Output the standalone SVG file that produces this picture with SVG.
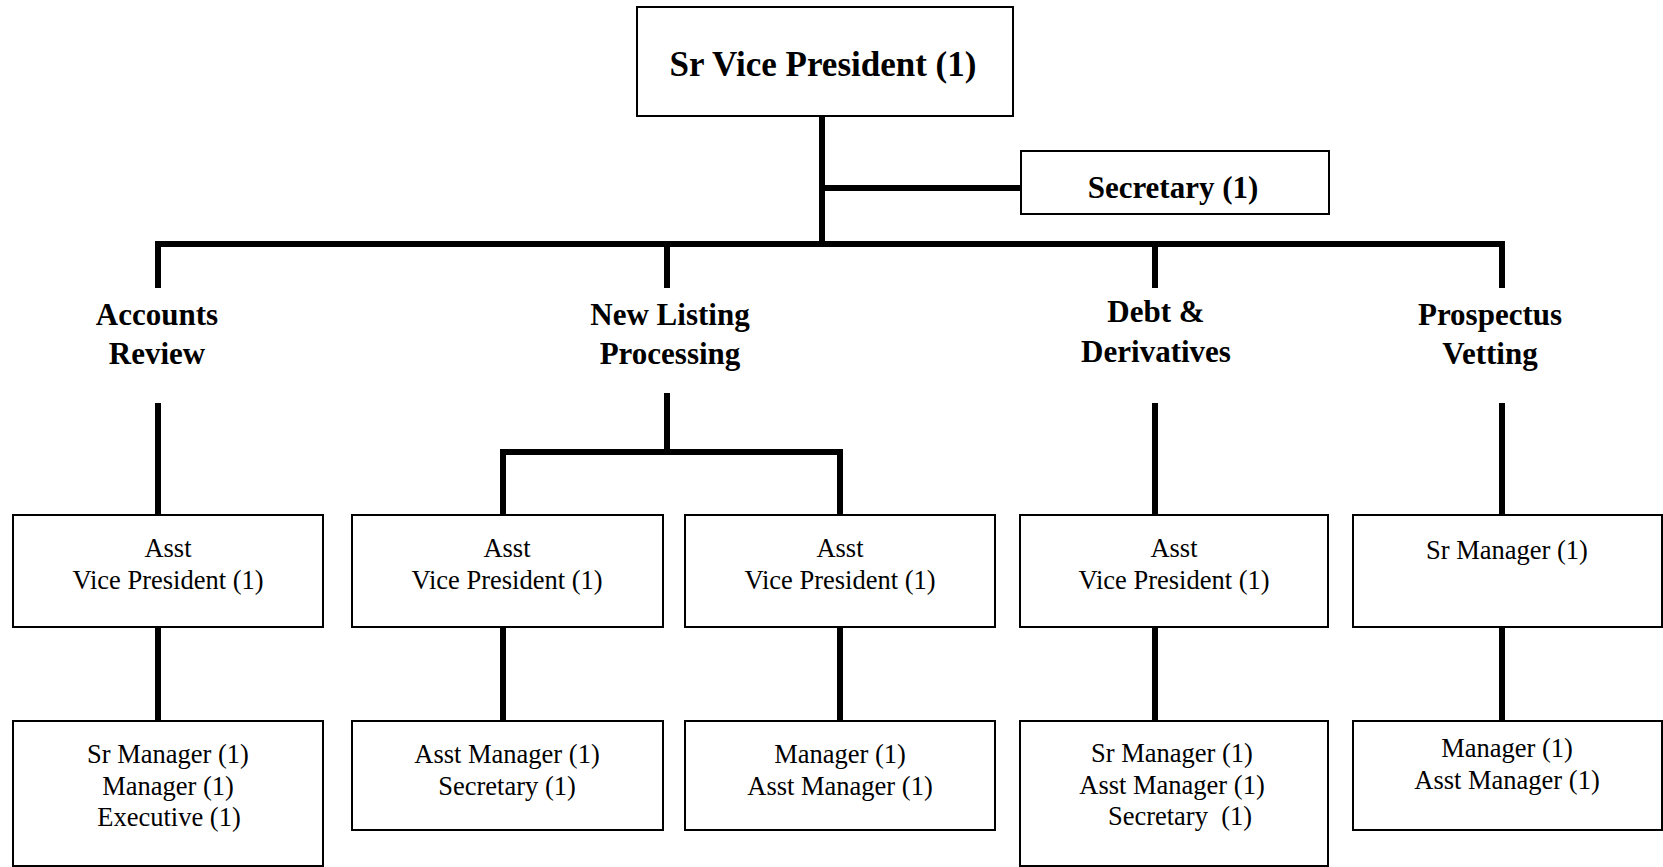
<svg xmlns="http://www.w3.org/2000/svg" width="1663" height="867" viewBox="0 0 1663 867">
<style>
.bg{fill:#fff}
.box{fill:#fff;stroke:#000;stroke-width:2}
.con{fill:none;stroke:#000;stroke-width:6;stroke-linejoin:miter}
text{font-family:"Liberation Serif","Times New Roman",serif;fill:#000;text-anchor:middle}
.b35{font-size:35px;font-weight:bold}
.b31{font-size:31px;font-weight:bold}
.r26{font-size:26.5px}
</style>
<rect class="bg" x="0" y="0" width="1663" height="867"/>
<g id="connectors">
<path class="con" d="M822 116 V244"/>
<path class="con" d="M822 188 H1021"/>
<path class="con" d="M155 244 H1505"/>
<path class="con" d="M158 244 V288"/>
<path class="con" d="M667 244 V288"/>
<path class="con" d="M1155 244 V288"/>
<path class="con" d="M1502 244 V288"/>
<path class="con" d="M158 403 V515"/>
<path class="con" d="M667 393 V452"/>
<path class="con" d="M503 515 V452 H840 V515"/>
<path class="con" d="M1155 403 V515"/>
<path class="con" d="M1502 403 V515"/>
<path class="con" d="M158 627 V721"/>
<path class="con" d="M503 627 V721"/>
<path class="con" d="M840 627 V721"/>
<path class="con" d="M1155 627 V721"/>
<path class="con" d="M1502 627 V721"/>
</g>
<g id="svp">
<rect class="box" x="637" y="7" width="376" height="109"/>
<text class="b35" x="823" y="76">Sr Vice President (1)</text>
</g>
<g id="secretary">
<rect class="box" x="1021" y="151" width="308" height="63"/>
<text class="b31" x="1173" y="198">Secretary (1)</text>
</g>
<g id="dept-accounts">
<text class="b31" x="157" y="325">Accounts</text>
<text class="b31" x="157" y="364">Review</text>
</g>
<g id="dept-newlisting">
<text class="b31" x="670" y="325">New Listing</text>
<text class="b31" x="670" y="364">Processing</text>
</g>
<g id="dept-debt">
<text class="b31" x="1156" y="322">Debt &amp;</text>
<text class="b31" x="1156" y="362">Derivatives</text>
</g>
<g id="dept-prospectus">
<text class="b31" x="1490" y="325">Prospectus</text>
<text class="b31" x="1490" y="364">Vetting</text>
</g>
<g id="ar-avp">
<rect class="box" x="13" y="515" width="310" height="112"/>
<text class="r26" x="168" y="557">Asst</text>
<text class="r26" x="168" y="589">Vice President (1)</text>
</g>
<g id="nlp-avp1">
<rect class="box" x="352" y="515" width="311" height="112"/>
<text class="r26" x="507" y="557">Asst</text>
<text class="r26" x="507" y="589">Vice President (1)</text>
</g>
<g id="nlp-avp2">
<rect class="box" x="685" y="515" width="310" height="112"/>
<text class="r26" x="840" y="557">Asst</text>
<text class="r26" x="840" y="589">Vice President (1)</text>
</g>
<g id="dd-avp">
<rect class="box" x="1020" y="515" width="308" height="112"/>
<text class="r26" x="1174" y="557">Asst</text>
<text class="r26" x="1174" y="589">Vice President (1)</text>
</g>
<g id="pv-srm">
<rect class="box" x="1353" y="515" width="309" height="112"/>
<text class="r26" x="1507" y="559">Sr Manager (1)</text>
</g>
<g id="ar-staff">
<rect class="box" x="13" y="721" width="310" height="145"/>
<text class="r26" x="168" y="763">Sr Manager (1)</text>
<text class="r26" x="168" y="795">Manager (1)</text>
<text class="r26" x="169" y="826">Executive (1)</text>
</g>
<g id="nlp-staff1">
<rect class="box" x="352" y="721" width="311" height="109"/>
<text class="r26" x="507" y="763">Asst Manager (1)</text>
<text class="r26" x="507" y="795">Secretary (1)</text>
</g>
<g id="nlp-staff2">
<rect class="box" x="685" y="721" width="310" height="109"/>
<text class="r26" x="840" y="763">Manager (1)</text>
<text class="r26" x="840" y="795">Asst Manager (1)</text>
</g>
<g id="dd-staff">
<rect class="box" x="1020" y="721" width="308" height="145"/>
<text class="r26" x="1172" y="762">Sr Manager (1)</text>
<text class="r26" x="1172" y="794">Asst Manager (1)</text>
<text class="r26" x="1180" y="825" xml:space="preserve">Secretary  (1)</text>
</g>
<g id="pv-staff">
<rect class="box" x="1353" y="721" width="309" height="109"/>
<text class="r26" x="1507" y="757">Manager (1)</text>
<text class="r26" x="1507" y="789">Asst Manager (1)</text>
</g>
</svg>
